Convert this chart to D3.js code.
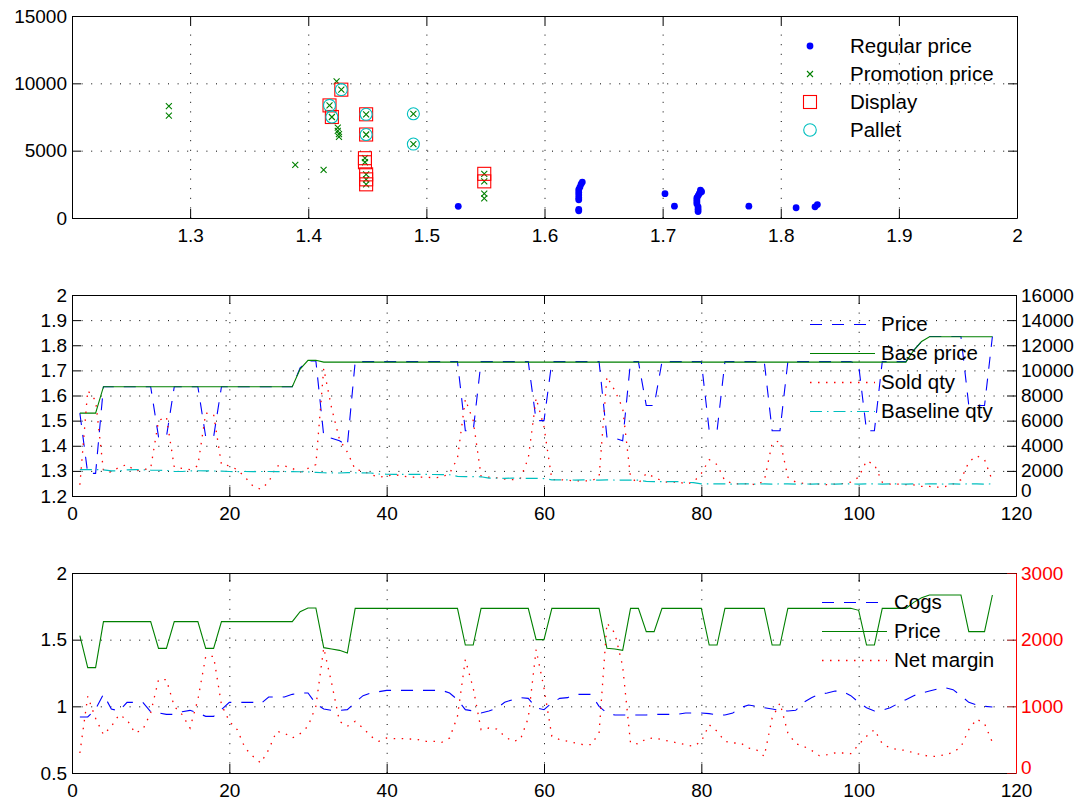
<!DOCTYPE html>
<html><head><meta charset="utf-8">
<script src="https://cdn.jsdelivr.net/npm/d3@7"></script>
<style>
html,body{margin:0;padding:0;background:#fff;}
svg{display:block;}
</style></head><body>
<svg id="chart" width="1083" height="801"></svg>
<script>
// ---------------- DATA ----------------
// Top panel: scatter of price vs sold quantity
const regularPrice = [1.527,1.632,1.631,1.630,1.629,1.629,1.629,1.629,1.629,1.629,1.629,1.702,1.710,1.732,1.733,1.731,1.730,1.729,1.729,1.729,1.729,1.730,1.730,1.730,1.773,1.813,1.829,1.831];
const regularQty   = [870,2670,2520,2300,2100,1900,1700,1500,1350,640,540,1810,880,2060,1950,1810,1650,1500,1350,1200,1050,830,650,480,880,760,830,1000];

const promoPrice = [1.282,1.282,1.389,1.413,1.418,1.420,1.424,1.428,1.425,1.425,1.426,1.426,1.449,1.449,1.448,1.448,1.449,1.449,1.449,1.489,1.489,1.549,1.549,1.549,1.549];
const promoQty   = [8310,7600,3950,3580,8360,7500,10150,9530,6710,6470,6230,6030,7700,6200,4440,4140,3240,2870,2500,7740,5490,3280,2720,1810,1450];
const onDisplay  = [0,0,0,0,1,1,0,1,0,0,0,0,1,1,1,1,1,1,1,0,0,1,1,0,0];
const onPallet   = [0,0,0,0,1,1,0,1,0,0,0,0,1,1,0,0,0,0,0,1,1,0,0,0,0];

const topLegend = ["Regular price","Promotion price","Display","Pallet"];
const topXTicks = [1.3,1.4,1.5,1.6,1.7,1.8,1.9,2];
const topYTicks = [0,5000,10000,15000];

// Weekly series (weeks 1..117)
const price = [
1.53,1.29,1.29,1.635,1.635,1.635,1.635,1.635,1.635,1.635,
1.435,1.435,1.635,1.635,1.635,1.635,1.435,1.435,1.635,1.635,
1.635,1.635,1.635,1.635,1.635,1.635,1.635,1.635,1.71,1.738,
1.738,1.44,1.43,1.42,1.40,1.735,1.735,1.735,1.735,1.735,
1.735,1.735,1.735,1.735,1.735,1.735,1.735,1.735,1.735,1.46,
1.46,1.735,1.735,1.735,1.735,1.735,1.735,1.735,1.50,1.50,
1.735,1.735,1.735,1.735,1.735,1.735,1.735,1.435,1.43,1.42,
1.735,1.735,1.56,1.56,1.735,1.735,1.735,1.735,1.735,1.735,
1.46,1.46,1.735,1.735,1.735,1.735,1.735,1.735,1.46,1.46,
1.735,1.735,1.735,1.735,1.735,1.735,1.735,1.735,1.735,1.72,
1.46,1.46,1.735,1.735,1.735,1.735,1.78,1.815,1.835,1.835,
1.835,1.835,1.835,1.56,1.56,1.56,1.835];

const basePrice = [
1.53,1.53,1.53,1.635,1.635,1.635,1.635,1.635,1.635,1.635,
1.635,1.635,1.635,1.635,1.635,1.635,1.635,1.635,1.635,1.635,
1.635,1.635,1.635,1.635,1.635,1.635,1.635,1.635,1.705,1.74,
1.74,1.733,1.733,1.733,1.733,1.733,1.733,1.733,1.733,1.733,
1.733,1.733,1.733,1.733,1.733,1.733,1.733,1.733,1.733,1.733,
1.733,1.733,1.733,1.733,1.733,1.733,1.733,1.733,1.733,1.733,
1.733,1.733,1.733,1.733,1.733,1.733,1.733,1.733,1.733,1.733,
1.733,1.733,1.733,1.733,1.733,1.733,1.733,1.733,1.733,1.733,
1.733,1.733,1.733,1.733,1.733,1.733,1.733,1.733,1.733,1.733,
1.733,1.733,1.733,1.733,1.733,1.733,1.733,1.733,1.733,1.733,
1.733,1.733,1.733,1.733,1.733,1.733,1.78,1.815,1.834,1.834,
1.834,1.834,1.834,1.834,1.834,1.834,1.834];

const soldQty = [
900,8400,7600,2000,1900,2300,2500,2000,2100,2200,
6000,6300,2300,2200,2100,2400,6600,6500,2500,2400,
2100,1500,800,530,1100,2400,2400,2200,1900,2200,
2500,10150,7000,4500,3500,2100,2000,1700,1500,1600,
1700,1600,1500,1500,1500,1450,1500,1800,3000,7700,
6000,1600,1500,1450,1350,1300,1400,3000,7800,5500,
1300,1300,1250,1200,1200,1200,1500,9500,8400,7000,
1500,1000,1800,1500,1200,1050,1150,950,1100,1800,
2900,2500,1200,1000,950,1000,880,1200,4200,4400,
1500,1100,1000,950,950,900,950,1000,1100,1500,
2800,2500,1100,950,950,900,880,760,760,700,
750,950,1300,2700,3200,2900,1200];

const baselineQty = [
2100,2100,2100,2080,2000,1990,2080,2100,2090,2060,
2050,2040,1960,1950,2000,2010,2000,1990,1980,1950,
1940,1950,1940,1950,1950,1940,1950,1940,1930,1920,
1880,1850,1840,1830,1860,1850,1840,1830,1750,1730,
1720,1720,1730,1720,1720,1710,1700,1690,1570,1550,
1540,1530,1430,1420,1410,1420,1410,1400,1400,1390,
1290,1280,1280,1270,1280,1270,1270,1280,1270,1270,
1260,1260,1160,1150,1150,1140,1140,1080,1070,960,
960,960,960,950,960,960,950,960,950,960,
960,950,960,950,960,960,950,960,960,950,
960,960,950,960,960,950,960,950,960,960,
950,960,950,960,960,950,960];

const cogs = [
0.92,0.92,0.98,1.09,0.98,0.965,1.03,1.03,1.03,0.96,
0.95,0.94,0.94,0.96,0.97,0.95,0.925,0.925,0.975,1.03,
1.03,1.03,1.03,1.02,1.07,1.07,1.07,1.09,1.1,1.1,
1.02,0.98,0.97,0.97,0.975,1.03,1.08,1.1,1.11,1.12,
1.12,1.12,1.12,1.12,1.12,1.12,1.12,1.1,1.05,0.975,
0.965,0.95,0.965,0.985,1.03,1.05,1.065,1.06,0.99,0.975,
1.025,1.06,1.065,1.09,1.09,1.09,1.0,0.95,0.935,0.935,
0.935,0.935,0.935,0.94,0.94,0.94,0.94,0.95,0.95,0.95,
0.945,0.935,0.935,0.95,0.99,1.01,1.0,0.99,0.98,0.97,
0.965,0.97,1.03,1.065,1.09,1.1,1.115,1.11,1.08,1.03,
0.99,0.965,0.97,0.99,1.02,1.05,1.08,1.1,1.115,1.13,
1.14,1.125,1.08,1.03,1.01,1.0,0.995];

const netMargin = [
300,1150,820,575,700,875,800,600,650,900,
1400,1400,1000,875,675,1100,1750,1750,1025,775,
650,375,250,150,350,625,600,525,590,700,
1000,1875,1350,775,700,775,675,550,475,525,
515,515,510,500,475,475,460,525,850,1700,
1275,650,675,660,550,475,500,825,1850,1275,
550,500,475,450,425,425,600,2250,2100,1600,
450,435,515,525,500,475,450,425,400,475,
725,625,475,450,450,375,350,250,825,1050,
600,440,400,340,260,275,300,300,290,425,
550,650,440,375,350,340,300,275,250,250,
275,310,390,650,810,740,460];

const midLegend = ["Price","Base price","Sold qty","Baseline qty"];
const botLegend = ["Cogs","Price","Net margin"];
const weekTicks = [0,20,40,60,80,100,120];
const midPriceTicks = [1.2,1.3,1.4,1.5,1.6,1.7,1.8,1.9,2];
const midQtyTicks = [0,2000,4000,6000,8000,10000,12000,14000,16000];
const botPriceTicks = [0.5,1,1.5,2];
const botMarginTicks = [0,1000,2000,3000];

// ---------------- DRAWING ----------------
const FONT = '"Liberation Sans", Arial, Helvetica, sans-serif';
const FS = 19, LFS = 20.5, TICK = 9;
const GRID_DASH = "1,8.6";
const C = {blue:"#0000ff", green:"#008000", red:"#ff0000", cyan:"#00bfbf", dark:"#8b0000"};
const DASH = "12,10", DOT = "1.5,6.5", DASHDOT = "12,5,1.5,5";

const svg = d3.select("#chart").attr("font-family", FONT);
svg.append("rect").attr("width",1083).attr("height",801).attr("fill","#fff");

const weeks = d3.range(1, price.length + 1);
const fmt = d3.format("~g");

const box1 = {left:72, right:1017, top:16, bottom:218};
const box2 = {left:72, right:1016, top:295, bottom:496};
const box3 = {left:72, right:1016, top:573, bottom:773};

const x1 = d3.scaleLinear([1.2, 2], [box1.left, box1.right]);
const y1 = d3.scaleLinear([0, 15000], [box1.bottom, box1.top]);
const x2 = d3.scaleLinear([0, 120], [box2.left, box2.right]);
const y2L = d3.scaleLinear([1.2, 2], [box2.bottom, box2.top]);
const y2R = d3.scaleLinear([0, 16000], [box2.bottom, box2.top]);
const x3 = d3.scaleLinear([0, 120], [box3.left, box3.right]);
const y3L = d3.scaleLinear([0.5, 2], [box3.bottom, box3.top]);
const y3R = d3.scaleLinear([0, 3000], [box3.bottom, box3.top]);

function grid(box, x, y, xv, yv) {
  const gx = svg.append("g").attr("transform", `translate(0,${box.bottom})`)
    .call(d3.axisBottom(x).tickValues(xv).tickSize(-(box.bottom - box.top)).tickFormat(""));
  gx.select(".domain").remove();
  gx.selectAll(".tick line").attr("stroke", "#000").attr("stroke-dasharray", GRID_DASH);
  const gy = svg.append("g").attr("transform", `translate(${box.left},0)`)
    .call(d3.axisLeft(y).tickValues(yv).tickSize(-(box.right - box.left)).tickFormat(""));
  gy.select(".domain").remove();
  gy.selectAll(".tick line").attr("stroke", "#000").attr("stroke-dasharray", GRID_DASH);
}

function styleAxis(g, lineColor, tickColor, textColor) {
  g.attr("font-size", FS).attr("font-family", FONT);
  g.select(".domain").attr("stroke", lineColor).attr("stroke-width", 1);
  g.selectAll(".tick line").attr("stroke", tickColor).attr("stroke-width", 1);
  g.selectAll(".tick text").attr("fill", textColor);
}

function frame(box, x, yL, xTicks, yTicks, yR, yRTicks, rColors) {
  const gb = svg.append("g").attr("transform", `translate(0,${box.bottom})`)
    .call(d3.axisBottom(x).tickValues(xTicks).tickSize(-TICK).tickSizeOuter(0).tickPadding(11).tickFormat(fmt));
  styleAxis(gb, "#000", "#000", "#000");
  const gt = svg.append("g").attr("transform", `translate(0,${box.top})`)
    .call(d3.axisTop(x).tickValues(xTicks).tickSize(-TICK).tickSizeOuter(0).tickFormat(""));
  styleAxis(gt, "#000", "#000", "#000");
  const gl = svg.append("g").attr("transform", `translate(${box.left},0)`)
    .call(d3.axisLeft(yL).tickValues(yTicks).tickSize(-TICK).tickSizeOuter(0).tickPadding(5).tickFormat(fmt));
  styleAxis(gl, "#000", "#000", "#000");
  if (yR) {
    const gr = svg.append("g").attr("transform", `translate(${box.right},0)`)
      .call(d3.axisRight(yR).tickValues(yRTicks).tickSize(-TICK).tickSizeOuter(0).tickPadding(5).tickFormat(fmt));
    styleAxis(gr, rColors[0], rColors[1], rColors[2]);
    // bottom label of right axis sits slightly up so it does not run into the x labels
    gr.selectAll(".tick text").filter(d => d === 0).attr("dy", "0.05em");
  } else {
    const gr = svg.append("g").attr("transform", `translate(${box.right},0)`)
      .call(d3.axisRight(yL).tickValues(yTicks).tickSize(-TICK).tickSizeOuter(0).tickFormat(""));
    styleAxis(gr, "#000", "#000", "#000");
  }
}

// ----- Panel 1: scatter -----
grid(box1, x1, y1, [1.3,1.4,1.5,1.6,1.7,1.8,1.9], [5000,10000]);
const p1 = svg.append("g");
p1.selectAll("circle.reg").data(regularPrice).join("circle").attr("class","reg")
  .attr("cx", d => x1(d)).attr("cy", (d,i) => y1(regularQty[i])).attr("r", 3.4).attr("fill", C.blue);
const xMark = (g, cx, cy, s) => g.append("path")
  .attr("d", `M${cx-s},${cy-s}L${cx+s},${cy+s}M${cx-s},${cy+s}L${cx+s},${cy-s}`)
  .attr("stroke", C.green).attr("stroke-width", 1.1).attr("fill", "none");
promoPrice.forEach((p,i) => xMark(p1, x1(p), y1(promoQty[i]), 3));
promoPrice.forEach((p,i) => {
  if (onDisplay[i]) p1.append("rect").attr("x", x1(p)-6.5).attr("y", y1(promoQty[i])-6.5)
    .attr("width", 13).attr("height", 13).attr("fill","none").attr("stroke", C.red).attr("stroke-width",1.1);
});
promoPrice.forEach((p,i) => {
  if (onPallet[i]) p1.append("circle").attr("cx", x1(p)).attr("cy", y1(promoQty[i])).attr("r", 6)
    .attr("fill","none").attr("stroke", C.cyan).attr("stroke-width",1.1);
});
frame(box1, x1, y1, topXTicks, topYTicks);

// legend 1
const l1 = svg.append("g").attr("font-size", LFS);
const l1rows = [46, 74, 102, 130];
l1.append("circle").attr("cx", 810).attr("cy", l1rows[0]).attr("r", 3.4).attr("fill", C.blue);
xMark(l1, 810, l1rows[1], 3);
l1.append("rect").attr("x", 803.5).attr("y", l1rows[2]-6.5).attr("width",13).attr("height",13)
  .attr("fill","none").attr("stroke", C.red).attr("stroke-width",1.1);
l1.append("circle").attr("cx", 810).attr("cy", l1rows[3]).attr("r", 6.3)
  .attr("fill","none").attr("stroke", C.cyan).attr("stroke-width",1.1);
topLegend.forEach((t,i) => l1.append("text").attr("x", 850).attr("y", l1rows[i]).attr("dy","0.35em").text(t));

// ----- Panel 2 -----
grid(box2, x2, y2L, [20,40,60,80,100], [1.3,1.4,1.5,1.6,1.7,1.8,1.9]);
const line = (x, y) => d3.line().x((d,i) => x(weeks[i])).y(d => y(d));
const p2 = svg.append("g").attr("fill","none");
p2.append("path").attr("d", line(x2,y2L)(price)).attr("stroke", C.blue).attr("stroke-width",1.1).attr("stroke-dasharray", DASH);
p2.append("path").attr("d", line(x2,y2L)(basePrice)).attr("stroke", C.green).attr("stroke-width",1.1);
p2.append("path").attr("d", line(x2,y2R)(soldQty)).attr("stroke", C.red).attr("stroke-width",1.3).attr("stroke-dasharray", DOT);
p2.append("path").attr("d", line(x2,y2R)(baselineQty)).attr("stroke", C.cyan).attr("stroke-width",1.2).attr("stroke-dasharray", DASHDOT);
frame(box2, x2, y2L, weekTicks, midPriceTicks, y2R, midQtyTicks, ["#000","#000","#000"]);

const l2 = svg.append("g").attr("font-size", LFS);
const l2rows = [324, 352.5, 381.5, 410.5];
const l2styles = [[C.blue, DASH],[C.green, null],[C.red, DOT],[C.cyan, DASHDOT]];
midLegend.forEach((t,i) => {
  const yy = Math.round(l2rows[i]) + 0.5;
  const ln = l2.append("line").attr("x1",810).attr("x2",875).attr("y1",yy).attr("y2",yy)
    .attr("stroke", l2styles[i][0]).attr("stroke-width", i === 2 ? 1.5 : 1.1);
  if (l2styles[i][1]) ln.attr("stroke-dasharray", l2styles[i][1]);
  l2.append("text").attr("x", 881).attr("y", l2rows[i]).attr("dy","0.35em").text(t);
});

// ----- Panel 3 -----
grid(box3, x3, y3L, [20,40,60,80,100], [1,1.5]);
const p3 = svg.append("g").attr("fill","none");
p3.append("path").attr("d", line(x3,y3L)(cogs)).attr("stroke", C.blue).attr("stroke-width",1.1).attr("stroke-dasharray", DASH);
p3.append("path").attr("d", line(x3,y3L)(price)).attr("stroke", C.green).attr("stroke-width",1.1);
p3.append("path").attr("d", line(x3,y3R)(netMargin)).attr("stroke", C.red).attr("stroke-width",1.3).attr("stroke-dasharray", DOT);
frame(box3, x3, y3L, weekTicks, botPriceTicks, y3R, botMarginTicks, [C.red, C.dark, C.red]);

const l3 = svg.append("g").attr("font-size", LFS);
const l3rows = [602, 630.5, 659.5];
const l3styles = [[C.blue, DASH],[C.green, null],[C.red, DOT]];
botLegend.forEach((t,i) => {
  const yy = Math.round(l3rows[i]) + 0.5;
  const ln = l3.append("line").attr("x1",822).attr("x2",887).attr("y1",yy).attr("y2",yy)
    .attr("stroke", l3styles[i][0]).attr("stroke-width", i === 2 ? 1.5 : 1.1);
  if (l3styles[i][1]) ln.attr("stroke-dasharray", l3styles[i][1]);
  l3.append("text").attr("x", 894).attr("y", l3rows[i]).attr("dy","0.35em").text(t);
});
</script>
</body></html>
